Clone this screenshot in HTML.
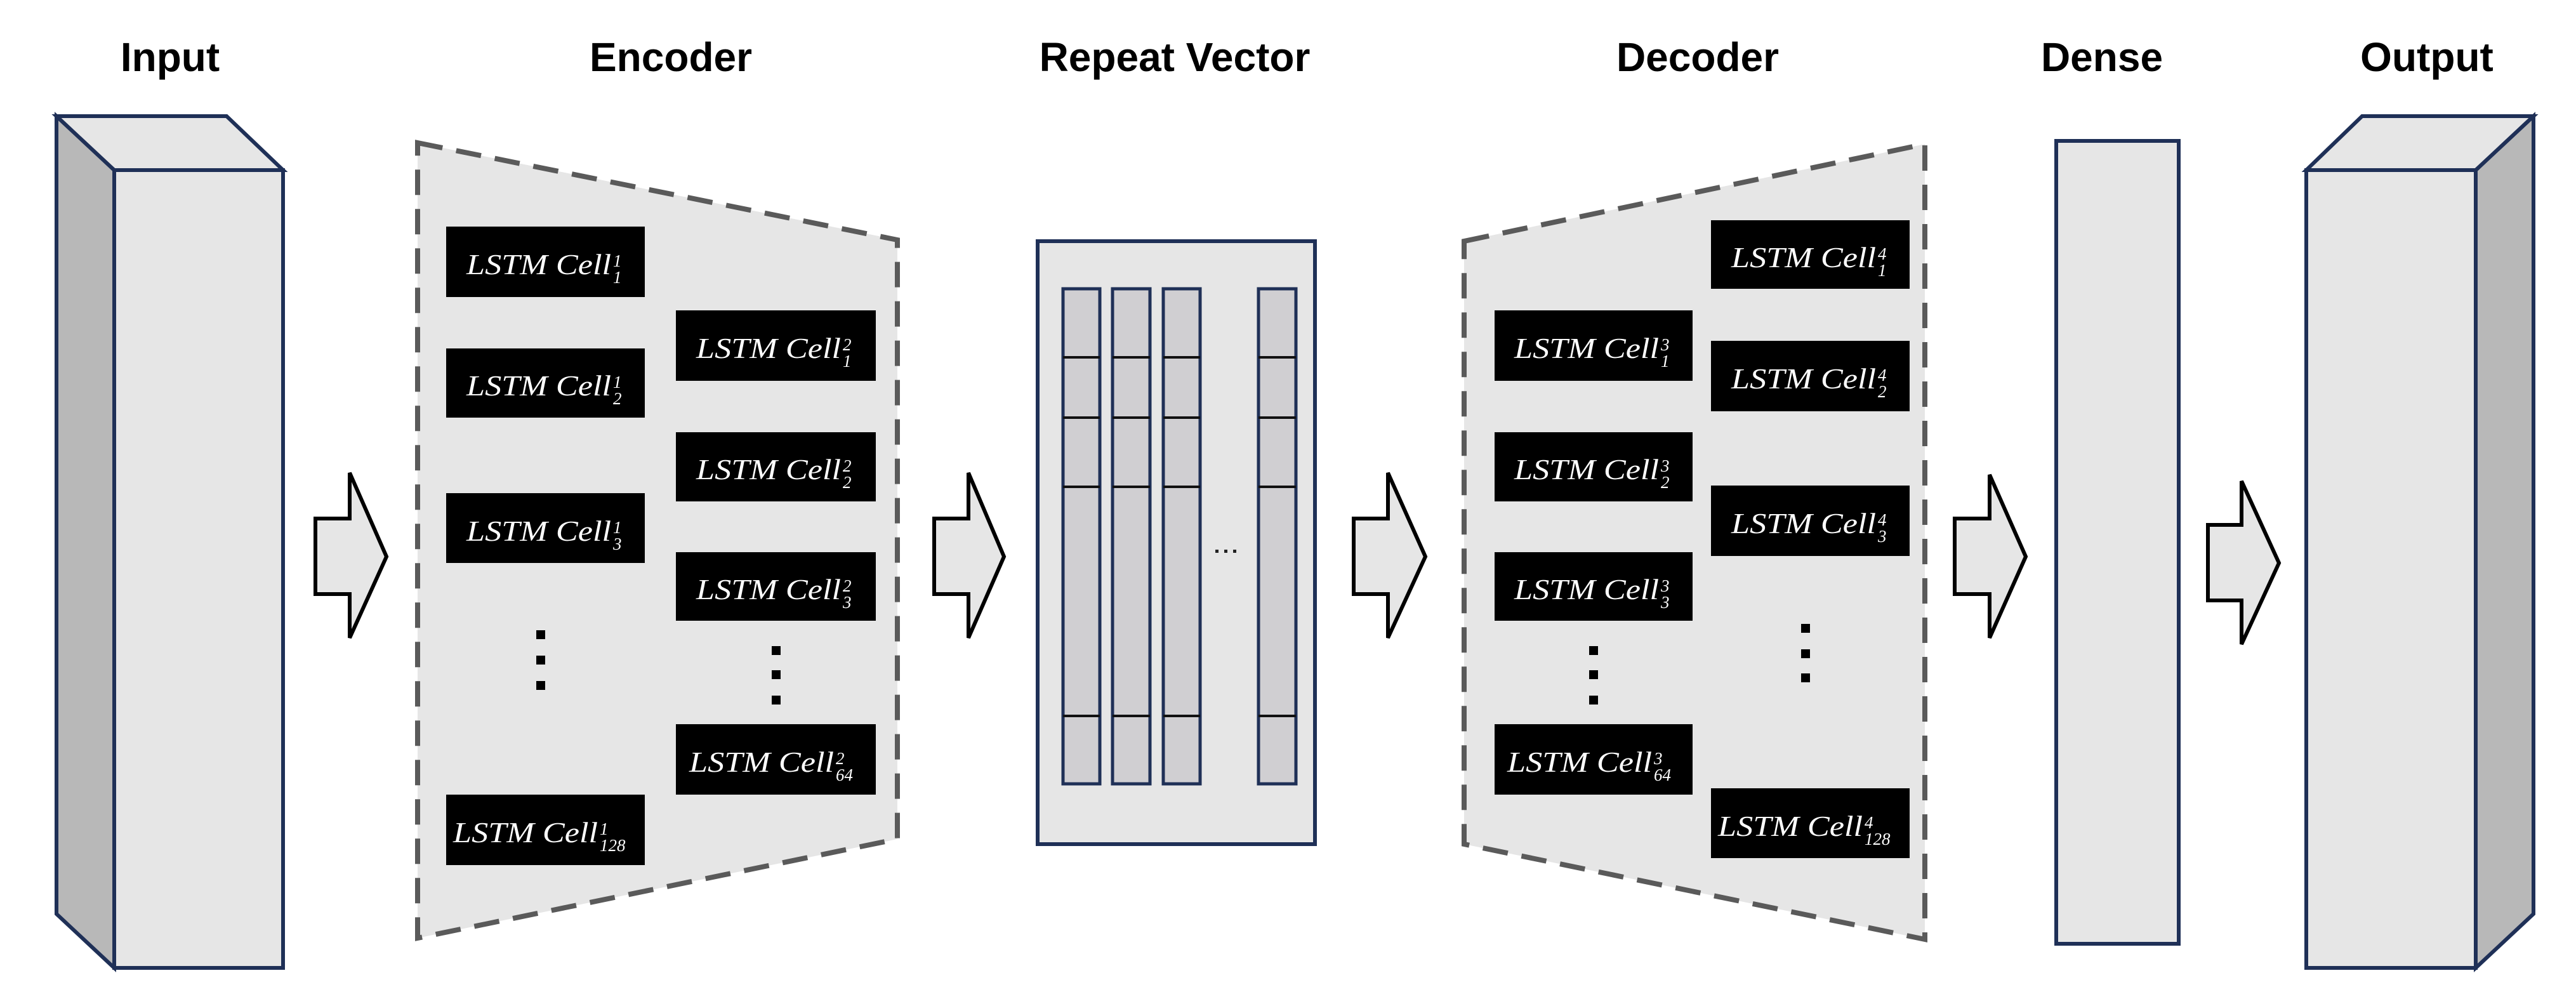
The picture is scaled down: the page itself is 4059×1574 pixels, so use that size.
<!DOCTYPE html>
<html><head><meta charset="utf-8"><style>
html,body{margin:0;padding:0;background:#fff;}
svg{display:block;}
.t{font-family:"Liberation Sans",Arial,sans-serif;font-weight:bold;font-size:64px;fill:#000;text-anchor:middle;}
.c{font-family:"Liberation Serif",serif;font-style:italic;fill:#fff;}
.i{font-family:"Liberation Serif",serif;font-style:italic;fill:#fff;font-size:27px;}
</style></head><body>
<svg width="4059" height="1574" viewBox="0 0 4059 1574" xmlns="http://www.w3.org/2000/svg">
<rect width="4059" height="1574" fill="#fff"/>
<text class="t" x="268" y="112">Input</text>
<text class="t" x="1057" y="112">Encoder</text>
<text class="t" x="1851" y="112">Repeat Vector</text>
<text class="t" x="2675" y="112">Decoder</text>
<text class="t" x="3312" y="112">Dense</text>
<text class="t" x="3824" y="112">Output</text>

<g stroke="#1f3057" stroke-width="6" stroke-linejoin="miter">
<polygon points="89,183 180,268 180,1525 89,1440" fill="#b8b8b8"/>
<polygon points="89,183 357,183 446,268 180,268" fill="#e6e6e6"/>
<rect x="180" y="268" width="266" height="1257" fill="#e6e6e6"/>
</g>

<polygon points="658,225 1414,378 1414,1322 658,1478" fill="#e6e6e6" stroke="#5a5a5a" stroke-width="8" stroke-dasharray="40,22"/>
<polygon points="2307,380 3033,227 3033,1480 2307,1330" fill="#e6e6e6" stroke="#5a5a5a" stroke-width="8" stroke-dasharray="40,22"/>

<g fill="#e6e6e6" stroke="#000" stroke-width="6" stroke-linejoin="miter">
<polygon points="497,817 551,817 551,745 609,877 551,1005 551,936 497,936"/>
<polygon points="1472,817 1526,817 1526,745 1582,877 1526,1005 1526,936 1472,936"/>
<polygon points="2133,817 2187,817 2187,745 2246,877 2187,1005 2187,936 2133,936"/>
<polygon points="3080,817 3135,817 3135,748 3192,877 3135,1005 3135,936 3080,936"/>
<polygon points="3479,827 3532,827 3532,758 3591,887 3532,1015 3532,946 3479,946"/>
</g>

<rect x="1635" y="380" width="437" height="950" fill="#e6e6e6" stroke="#1f3057" stroke-width="6"/>
<g fill="#d0cfd2" stroke="#1f3057" stroke-width="5">
<rect x="1675" y="455" width="58" height="780"/>
<rect x="1753" y="455" width="59" height="780"/>
<rect x="1833" y="455" width="58" height="780"/>
<rect x="1983" y="455" width="59" height="780"/>
</g>
<g stroke="#111" stroke-width="4">
<line x1="1675" y1="563" x2="1733" y2="563"/><line x1="1675" y1="658" x2="1733" y2="658"/><line x1="1675" y1="767" x2="1733" y2="767"/><line x1="1675" y1="1128" x2="1733" y2="1128"/>
<line x1="1753" y1="563" x2="1812" y2="563"/><line x1="1753" y1="658" x2="1812" y2="658"/><line x1="1753" y1="767" x2="1812" y2="767"/><line x1="1753" y1="1128" x2="1812" y2="1128"/>
<line x1="1833" y1="563" x2="1891" y2="563"/><line x1="1833" y1="658" x2="1891" y2="658"/><line x1="1833" y1="767" x2="1891" y2="767"/><line x1="1833" y1="1128" x2="1891" y2="1128"/>
<line x1="1983" y1="563" x2="2042" y2="563"/><line x1="1983" y1="658" x2="2042" y2="658"/><line x1="1983" y1="767" x2="2042" y2="767"/><line x1="1983" y1="1128" x2="2042" y2="1128"/>
</g>
<g fill="#222"><rect x="1915" y="866" width="5" height="5"/><rect x="1929" y="866" width="5" height="5"/><rect x="1943" y="866" width="5" height="5"/></g>

<rect x="3240" y="222" width="193" height="1265" fill="#e6e6e6" stroke="#1f3057" stroke-width="6"/>

<g stroke="#1f3057" stroke-width="6">
<polygon points="3901,268 3992,183 3992,1440 3901,1525" fill="#b8b8b8"/>
<polygon points="3634,268 3722,183 3992,183 3901,268" fill="#e6e6e6"/>
<rect x="3634" y="268" width="267" height="1257" fill="#e6e6e6"/>
</g>

<g fill="#000">
<rect x="845" y="993" width="14" height="14"/><rect x="845" y="1033" width="14" height="14"/><rect x="845" y="1073" width="14" height="14"/>
<rect x="1216" y="1018" width="14" height="14"/><rect x="1216" y="1056" width="14" height="14"/><rect x="1216" y="1096" width="14" height="14"/>
<rect x="2504" y="1018" width="14" height="14"/><rect x="2504" y="1056" width="14" height="14"/><rect x="2504" y="1096" width="14" height="14"/>
<rect x="2838" y="983" width="14" height="14"/><rect x="2838" y="1023" width="14" height="14"/><rect x="2838" y="1061" width="14" height="14"/>
</g>

<g>
<rect x="703" y="357" width="313" height="111"/>
<text class="c" x="735" y="432" font-size="46" textLength="228" lengthAdjust="spacingAndGlyphs">LSTM Cell</text><text class="i" x="966" y="420">1</text><text class="i" x="966" y="446">1</text>
<rect x="703" y="549" width="313" height="109"/>
<text class="c" x="735" y="623" font-size="46" textLength="228" lengthAdjust="spacingAndGlyphs">LSTM Cell</text><text class="i" x="966" y="611">1</text><text class="i" x="966" y="637">2</text>
<rect x="703" y="777" width="313" height="110"/>
<text class="c" x="735" y="852" font-size="46" textLength="228" lengthAdjust="spacingAndGlyphs">LSTM Cell</text><text class="i" x="966" y="840">1</text><text class="i" x="966" y="866">3</text>
<rect x="703" y="1252" width="313" height="111"/>
<text class="c" x="714" y="1327" font-size="46" textLength="228" lengthAdjust="spacingAndGlyphs">LSTM Cell</text><text class="i" x="945" y="1315">1</text><text class="i" x="945" y="1341">128</text>

<rect x="1065" y="489" width="315" height="111"/>
<text class="c" x="1097" y="564" font-size="46" textLength="228" lengthAdjust="spacingAndGlyphs">LSTM Cell</text><text class="i" x="1328" y="552">2</text><text class="i" x="1328" y="578">1</text>
<rect x="1065" y="681" width="315" height="109"/>
<text class="c" x="1097" y="755" font-size="46" textLength="228" lengthAdjust="spacingAndGlyphs">LSTM Cell</text><text class="i" x="1328" y="743">2</text><text class="i" x="1328" y="769">2</text>
<rect x="1065" y="870" width="315" height="108"/>
<text class="c" x="1097" y="944" font-size="46" textLength="228" lengthAdjust="spacingAndGlyphs">LSTM Cell</text><text class="i" x="1328" y="932">2</text><text class="i" x="1328" y="958">3</text>
<rect x="1065" y="1141" width="315" height="111"/>
<text class="c" x="1086" y="1216" font-size="46" textLength="228" lengthAdjust="spacingAndGlyphs">LSTM Cell</text><text class="i" x="1317" y="1204">2</text><text class="i" x="1317" y="1230">64</text>

<rect x="2355" y="489" width="312" height="111"/>
<text class="c" x="2386" y="564" font-size="46" textLength="228" lengthAdjust="spacingAndGlyphs">LSTM Cell</text><text class="i" x="2617" y="552">3</text><text class="i" x="2617" y="578">1</text>
<rect x="2355" y="681" width="312" height="109"/>
<text class="c" x="2386" y="755" font-size="46" textLength="228" lengthAdjust="spacingAndGlyphs">LSTM Cell</text><text class="i" x="2617" y="743">3</text><text class="i" x="2617" y="769">2</text>
<rect x="2355" y="870" width="312" height="108"/>
<text class="c" x="2386" y="944" font-size="46" textLength="228" lengthAdjust="spacingAndGlyphs">LSTM Cell</text><text class="i" x="2617" y="932">3</text><text class="i" x="2617" y="958">3</text>
<rect x="2355" y="1141" width="312" height="111"/>
<text class="c" x="2375" y="1216" font-size="46" textLength="228" lengthAdjust="spacingAndGlyphs">LSTM Cell</text><text class="i" x="2606" y="1204">3</text><text class="i" x="2606" y="1230">64</text>

<rect x="2696" y="347" width="313" height="108"/>
<text class="c" x="2728" y="421" font-size="46" textLength="228" lengthAdjust="spacingAndGlyphs">LSTM Cell</text><text class="i" x="2959" y="409">4</text><text class="i" x="2959" y="435">1</text>
<rect x="2696" y="537" width="313" height="111"/>
<text class="c" x="2728" y="612" font-size="46" textLength="228" lengthAdjust="spacingAndGlyphs">LSTM Cell</text><text class="i" x="2959" y="600">4</text><text class="i" x="2959" y="626">2</text>
<rect x="2696" y="765" width="313" height="111"/>
<text class="c" x="2728" y="840" font-size="46" textLength="228" lengthAdjust="spacingAndGlyphs">LSTM Cell</text><text class="i" x="2959" y="828">4</text><text class="i" x="2959" y="854">3</text>
<rect x="2696" y="1242" width="313" height="110"/>
<text class="c" x="2707" y="1317" font-size="46" textLength="228" lengthAdjust="spacingAndGlyphs">LSTM Cell</text><text class="i" x="2938" y="1305">4</text><text class="i" x="2938" y="1331">128</text>
</g>
</svg>
</body></html>
